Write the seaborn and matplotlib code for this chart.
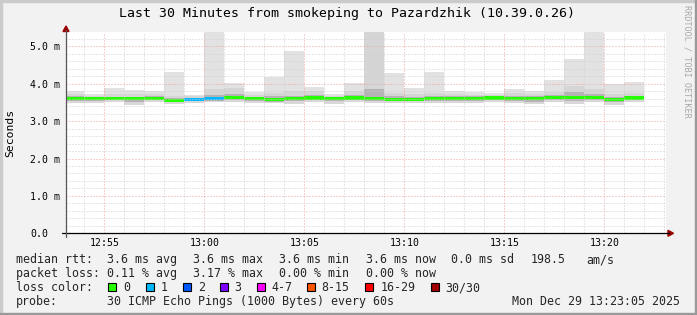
import matplotlib
matplotlib.use("Agg")
import matplotlib.pyplot as plt
import seaborn as sns
import pandas as pd
from matplotlib.patches import Rectangle, Polygon
from matplotlib.lines import Line2D
from matplotlib.ticker import FixedLocator, MultipleLocator

# ---------------- data ----------------
title = "Last 30 Minutes from smokeping to Pazardzhik (10.39.0.26)"
y_axis_label = "Seconds"
watermark = "RRDTOOL / TOBI OETIKER"

window_start = "12:53:05"
window_end = "13:23:05"
y_top = 5.38  # ms

bar_start = ["12:53", "12:54", "12:55", "12:56", "12:57", "12:58", "12:59",
             "13:00", "13:01", "13:02", "13:03", "13:04", "13:05", "13:06",
             "13:07", "13:08", "13:09", "13:10", "13:11", "13:12", "13:13",
             "13:14", "13:15", "13:16", "13:17", "13:18", "13:19", "13:20",
             "13:21"]

rtt_max = [3.82, 3.74, 3.88, 3.84, 3.80, 4.31, 3.70, 5.90, 4.03, 3.79,
           4.17, 4.89, 3.92, 3.72, 4.03, 5.90, 4.30, 3.90, 4.31, 3.81,
           3.79, 3.75, 3.85, 3.82, 4.09, 4.65, 5.90, 4.00, 4.06]
rtt_p90 = [3.72, 3.68, 3.72, 3.72, 3.72, 3.68, 3.67, 3.85, 3.90, 3.70,
           3.75, 3.80, 3.80, 3.68, 3.82, 5.60, 3.75, 3.72, 3.75, 3.72,
           3.70, 3.70, 3.76, 3.74, 3.78, 3.93, 3.85, 3.72, 3.76]
rtt_p75 = [3.66, 3.64, 3.65, 3.65, 3.66, 3.62, 3.63, 3.70, 3.72, 3.65,
           3.66, 3.68, 3.70, 3.65, 3.70, 3.85, 3.66, 3.65, 3.68, 3.66,
           3.66, 3.66, 3.68, 3.66, 3.70, 3.78, 3.72, 3.64, 3.68]
rtt_median = [3.60, 3.61, 3.60, 3.60, 3.61, 3.56, 3.58, 3.60, 3.63, 3.60,
              3.58, 3.60, 3.62, 3.61, 3.62, 3.60, 3.58, 3.59, 3.61, 3.61,
              3.60, 3.62, 3.61, 3.61, 3.63, 3.63, 3.63, 3.57, 3.62]
rtt_p25 = [3.55, 3.55, 3.56, 3.50, 3.56, 3.50, 3.53, 3.55, 3.57, 3.54,
           3.52, 3.53, 3.56, 3.55, 3.56, 3.55, 3.53, 3.54, 3.55, 3.55,
           3.53, 3.56, 3.55, 3.52, 3.57, 3.55, 3.56, 3.50, 3.56]
rtt_min = [3.49, 3.49, 3.50, 3.43, 3.50, 3.45, 3.49, 3.50, 3.52, 3.48,
           3.48, 3.46, 3.50, 3.47, 3.50, 3.49, 3.48, 3.49, 3.48, 3.49,
           3.48, 3.50, 3.48, 3.46, 3.50, 3.47, 3.50, 3.44, 3.50]
loss_level = [0, 0, 0, 0, 0, 0, 1, 1, 0, 0, 0, 0, 0, 0, 0, 0, 0, 0, 0, 0,
              0, 0, 0, 0, 0, 0, 0, 0, 0]

x_tick_labels = ["12:55", "13:00", "13:05", "13:10", "13:15", "13:20"]
y_tick_values = [0, 1, 2, 3, 4, 5]
y_tick_labels = ["0.0", "1.0 m", "2.0 m", "3.0 m", "4.0 m", "5.0 m"]

loss_colors = ["#26ff00", "#00b8ff", "#0059ff", "#7e00ff", "#ff00ff",
               "#ff5500", "#ff0000", "#a10000"]
loss_labels = ["0", "1", "2", "3", "4-7", "8-15", "16-29", "30/30"]

rtt_head = "median rtt:"
rtt_stats = ["3.6 ms avg", "3.6 ms max", "3.6 ms min", "3.6 ms now",
             "0.0 ms sd", "198.5", "am/s"]
loss_head = "packet loss:"
loss_stats = ["0.11 % avg", "3.17 % max", "0.00 % min", "0.00 % now"]
color_head = "loss color:"
probe_head = "probe:"
probe_text = "30 ICMP Echo Pings (1000 Bytes) every 60s"
stamp_text = "Mon Dec 29 13:23:05 2025"


def to_min(s):
    p = [int(v) for v in s.split(":")]
    sec = p[2] if len(p) > 2 else 0
    return (p[0] - 12) * 60 + p[1] + sec / 60.0


# ---------------- figure ----------------
sns.set_theme(style="white")
plt.rcParams["font.family"] = ["DejaVu Sans Mono", "DejaVu Sans"]
plt.rcParams["lines.scale_dashes"] = False

W, H = 697, 315
fig = plt.figure(figsize=(W / 100, H / 100), dpi=100)
fig.patch.set_facecolor("#f2f2f2")


def X(px):
    return px / W


def Y(py):
    return 1 - py / H


ax_l, ax_r, ax_t, ax_b = 66, 666, 32.2, 233.3
ax = fig.add_axes([X(ax_l), Y(ax_b), X(ax_r) - X(ax_l), Y(ax_t) - Y(ax_b)])
ax.set_facecolor("white")

centers = [to_min(s) + 0.5 for s in bar_start]
df = pd.DataFrame({"t": centers, "rtt_max": rtt_max, "rtt_p90": rtt_p90,
                   "rtt_p75": rtt_p75, "rtt_median": rtt_median,
                   "rtt_p25": rtt_p25, "rtt_min": rtt_min})

# smoke: overpaint layers from zero
smoke_layers = [("rtt_max", "#e2e2e2"), ("rtt_p90", "#d5d5d5"),
                ("rtt_p75", "#b4b4b4"), ("rtt_p25", "#d8d8d8"),
                ("rtt_min", "#ffffff")]
for col, c in smoke_layers:
    sns.barplot(data=df, x="t", y=col, native_scale=True, width=1.0,
                color=c, saturation=1, errorbar=None, linewidth=0,
                ax=ax, zorder=1)

# median band colored by loss
band = 0.085
ax.bar(df["t"], [band] * len(df), bottom=df["rtt_median"] - band / 2,
       width=1.0, color=[loss_colors[l] for l in loss_level], linewidth=0,
       zorder=2)

ax.set_xlim(to_min(window_start), to_min(window_end))
ax.set_ylim(0, y_top)
ax.set_xlabel("")
ax.set_ylabel("")

ax.xaxis.set_major_locator(FixedLocator([to_min(s) for s in x_tick_labels]))
ax.set_xticklabels(x_tick_labels)
ax.xaxis.set_minor_locator(MultipleLocator(1))
ax.yaxis.set_major_locator(FixedLocator(y_tick_values))
ax.set_yticklabels(y_tick_labels)
ax.yaxis.set_minor_locator(MultipleLocator(0.2))

ax.set_axisbelow(False)
ax.grid(which="major", color="#f0a0a0", linewidth=0.72,
        linestyle=(0, (0.72, 1.44)))
ax.grid(which="minor", color="#cfcfcf", linewidth=0.72,
        linestyle=(0, (0.72, 1.44)))

for s in ax.spines.values():
    s.set_visible(False)

ax.tick_params(axis="both", which="major", direction="inout", length=3,
               width=0.7, color="#e07070", labelsize=7.1, labelcolor="black")
ax.tick_params(axis="both", which="minor", direction="inout", length=3,
               width=0.7, color="#a0a0a0")
ax.tick_params(axis="x", which="major", pad=2.2)
ax.tick_params(axis="y", which="major", pad=24.5)
plt.setp(ax.get_yticklabels(), ha="left")

# axis lines with arrows
fig.add_artist(Line2D([X(62), X(669)], [Y(ax_b), Y(ax_b)], color="black",
                      lw=0.9, transform=fig.transFigure))
fig.add_artist(Line2D([X(ax_l), X(ax_l)], [Y(237), Y(30)], color="#555555",
                      lw=0.9, transform=fig.transFigure))
fig.add_artist(Polygon([[X(668), Y(ax_b - 3)], [X(673.5), Y(ax_b)],
                        [X(668), Y(ax_b + 3)]], closed=True,
                       color="#990000", transform=fig.transFigure))
fig.add_artist(Polygon([[X(ax_l - 3), Y(31.5)], [X(ax_l), Y(26)],
                        [X(ax_l + 3), Y(31.5)]], closed=True,
                       color="#990000", transform=fig.transFigure))

# texts
fig.text(X(347), Y(17.3), title, ha="center", va="baseline", fontsize=9.5,
         color="black")
fig.text(X(10), Y(132.7), y_axis_label, rotation=90, ha="center",
         va="center", fontsize=8.2, color="black")
fig.text(X(686.7), Y(5), watermark, rotation=-90, ha="center", va="top",
         fontsize=6.1, color="#a8a8a8")

fs = 8.4
base = [263.3, 277.3, 291.3, 305.3]
stat_x = [107.3, 193.3, 279.3, 365.7, 451, 530.7, 586.7]
fig.text(X(16), Y(base[0]), rtt_head, fontsize=fs, va="baseline")
for s, x in zip(rtt_stats, stat_x):
    fig.text(X(x), Y(base[0]), s, fontsize=fs, va="baseline")
fig.text(X(16), Y(base[1]), loss_head, fontsize=fs, va="baseline")
for s, x in zip(loss_stats, stat_x):
    fig.text(X(x), Y(base[1]), s, fontsize=fs, va="baseline")
fig.text(X(16), Y(base[2]), color_head, fontsize=fs, va="baseline")
box_x = [108.3, 145.7, 182.7, 219.7, 256.7, 306.7, 365.3, 430.7]
for c, lab, bx in zip(loss_colors, loss_labels, box_x):
    fig.add_artist(Rectangle((X(bx), Y(base[2])), 8 / W, 8 / H,
                             facecolor=c, edgecolor="black", lw=0.8,
                             transform=fig.transFigure))
    fig.text(X(bx + 15), Y(base[2]), lab, fontsize=fs, va="baseline")
fig.text(X(16), Y(base[3]), probe_head, fontsize=fs, va="baseline")
fig.text(X(107.3), Y(base[3]), probe_text, fontsize=fs, va="baseline")
fig.text(X(680), Y(base[3]), stamp_text, fontsize=fs, va="baseline",
         ha="right")

# frame shading
fig.add_artist(Rectangle((0, 0), 2 / W, 1, color="#cbcbcb",
                         transform=fig.transFigure))
fig.add_artist(Rectangle((0, 1 - 2 / H), 1, 2 / H, color="#cbcbcb",
                         transform=fig.transFigure))
fig.add_artist(Rectangle((1 - 2 / W, 0), 2 / W, 1, color="#999999",
                         transform=fig.transFigure))
fig.add_artist(Rectangle((0, 0), 1, 2 / H, color="#999999",
                         transform=fig.transFigure))

fig.savefig("out.png", dpi=100, facecolor=fig.get_facecolor())
